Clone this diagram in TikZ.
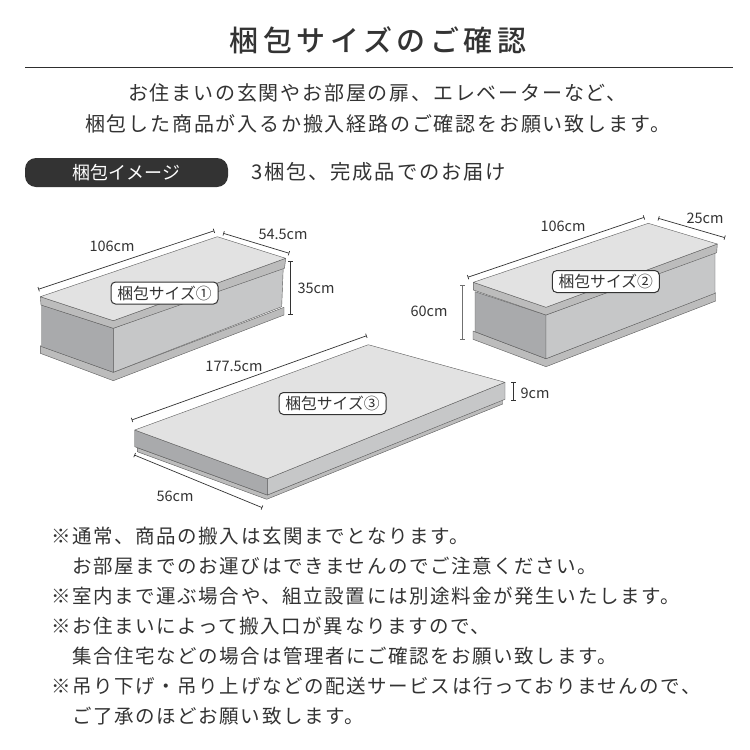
\documentclass[tikz,border=0pt]{standalone}
\usepackage{fontspec}
\usetikzlibrary{arrows.meta}
\setmainfont{Noto Sans CJK JP}
\newfontfamily\titlefont[LetterSpace=15.5]{Noto Sans CJK JP Medium}
\newfontfamily\leadfont[LetterSpace=9]{Noto Sans CJK JP}
\newfontfamily\notefont[LetterSpace=8.2]{Noto Sans CJK JP}
\newfontfamily\tagfont{Noto Sans CJK JP}
\definecolor{ink}{HTML}{333333}
\definecolor{topface}{HTML}{E2E2E2}
\definecolor{rightface}{HTML}{C6C7C8}
\definecolor{leftface}{HTML}{A9AAAC}
\definecolor{lipface}{HTML}{BCBCBC}
\tikzset{
  face/.style={draw=ink!80, line width=0.4pt, line join=round},
  dimline/.style={draw=ink, line width=0.7pt, {Bar[width=4.5pt,length=0.6pt]}-{Bar[width=4.5pt,length=0.6pt]}},
  dimlabel/.style={text=ink, font=\fontsize{14.5}{14.5}\selectfont\tagfont, inner sep=0pt},
  sizetag/.style={draw=ink, line width=1pt, fill=white, rounded corners=4.5pt, text=ink, inner sep=0pt,
    minimum width=107pt, minimum height=22pt, font=\fontsize{15.8}{15.8}\selectfont\tagfont},
  leadline/.style={text=ink, anchor=west, inner sep=0pt, font=\fontsize{20}{20}\selectfont\leadfont},
  noteline/.style={text=ink, anchor=west, inner sep=0pt, font=\fontsize{19.5}{19.5}\selectfont\notefont},
}

\begin{document}
\begin{tikzpicture}[x=1pt,y=-1pt]

\useasboundingbox (0,0) rectangle (750,750);
\fill [white] (0,0) rectangle (750,750);

% HEADER
\node (title) [text=ink, inner sep=0pt, font=\fontsize{29}{29}\selectfont\titlefont] at (378,40) {梱包サイズのご確認};
\draw [ink!90!black, line width=1pt] (25,67) -- (733,67);
\node (leadA) [leadline] at (128,93) {お住まいの玄関やお部屋の扉、エレベーターなど、};
\node (leadB) [leadline] at (85,124) {梱包した商品が入るか搬入経路のご確認をお願い致します。};

% IMAGE BAR
\node (imagebar) [fill=ink, rounded corners=11pt, minimum width=203pt, minimum height=29pt, inner sep=0pt,
  text=white, font=\fontsize{18}{18}\selectfont\tagfont] at (126.5,172.5) {梱包イメージ};
\node (delivery) [text=ink, anchor=west, inner sep=0pt, font=\fontsize{20.3}{20.3}\selectfont\leadfont] at (251,172) {3梱包、完成品でのお届け};

% BOX 1
\draw [face, fill=lipface] (40.3,345.7) -- (113.3,372.3) -- (284,307.3) -- (284,315) -- (113.3,380.7) -- (40.3,353.3) -- cycle;
\draw [face, fill=leftface] (41.7,305) -- (113.3,328.3) -- (113.3,372.3) -- (41.7,346.7) -- cycle;
\draw [face, fill=rightface] (113.3,328.3) -- (283.3,266) -- (281.7,306.7) -- (113.3,372.3) -- cycle;
\draw [face, fill=lipface] (40.3,296.7) -- (113.3,320.7) -- (285.7,258.3) -- (284.5,268.3) -- (113.3,328.3) -- (41,305) -- cycle;
\draw [face, fill=topface] (40.3,296.7) -- (217.3,236.7) -- (285.7,258.3) -- (113.3,320.7) -- cycle;
\draw [dimline] (38.3,289.3) -- (214.3,230.7);
\draw [dimline] (223.3,233.3) -- (289.3,253.3);
\draw [dimline] (290.7,261) -- (290.7,315);
\node (lenA) [dimlabel] at (112,246) {106cm};
\node (widA) [dimlabel] at (283,234) {54.5cm};
\node (hgtA) [dimlabel] at (316,288) {35cm};
\node (tagA) [sizetag] at (164.5,293) {梱包サイズ①};

% BOX 2
\draw [face, fill=lipface] (473,331) -- (546,358.7) -- (715.7,292.7) -- (715.7,301) -- (546,366.7) -- (473,339.3) -- cycle;
\draw [face, fill=leftface] (475,291.7) -- (546,315) -- (546,358.7) -- (475,331.7) -- cycle;
\draw [face, fill=rightface] (546,315) -- (715,252) -- (715,293.3) -- (546,358.7) -- cycle;
\draw [face, fill=lipface] (473.3,282.3) -- (546,307.3) -- (717.3,244) -- (716.7,252.7) -- (546,315) -- (473.3,290) -- cycle;
\draw [face, fill=topface] (473.3,282.3) -- (648.3,223.3) -- (717.3,244) -- (546,307.3) -- cycle;
\draw [dimline] (467.7,277.3) -- (644.3,217.3);
\draw [dimline] (658.3,218.3) -- (725,237.7);
\draw [dimline, draw=ink!70] (462.7,285.3) -- (462.7,339.3);
\node (lenB) [dimlabel] at (563,226) {106cm};
\node (widB) [dimlabel] at (705,218) {25cm};
\node (hgtB) [dimlabel] at (429,311) {60cm};
\node (tagB) [sizetag] at (605.8,281.5) {梱包サイズ②};

% BOX 3
\draw [face, fill=lipface] (137.3,447.7) -- (137.3,451.7) -- (266.7,499.3) -- (502.7,404) -- (502.7,399.5) -- (267.3,495) -- cycle;
\draw [face, fill=leftface] (134.7,430) -- (267.3,478.7) -- (267.3,495) -- (134.7,446.7) -- cycle;
\draw [face, fill=rightface] (267.3,478.7) -- (505,382.3) -- (505,399.3) -- (267.3,495) -- cycle;
\draw [face, fill=topface] (134.7,430) -- (368.3,344.7) -- (505,382.3) -- (267.3,478.7) -- cycle;
\draw [dimline] (131.7,420) -- (366.7,335.7);
\draw [dimline] (134.3,455) -- (262.3,507.7);
\draw [dimline] (513.7,382.3) -- (513.7,401);
\node (lenC) [dimlabel, fill=white, inner xsep=1pt] at (234,366) {177.5cm};
\node (widC) [dimlabel] at (175,496) {56cm};
\node (hgtC) [dimlabel] at (535,393) {9cm};
\node (tagC) [sizetag] at (332.5,403.5) {梱包サイズ③};

% NOTES
\node (noteA) [noteline] at (51,536) {※通常、商品の搬入は玄関までとなります。};
\node (noteB) [noteline] at (72,566) {お部屋までのお運びはできませんのでご注意ください。};
\node (noteC) [noteline] at (51,596) {※室内まで運ぶ場合や、組立設置には別途料金が発生いたします。};
\node (noteD) [noteline] at (51,626) {※お住まいによって搬入口が異なりますので、};
\node (noteE) [noteline] at (72,656) {集合住宅などの場合は管理者にご確認をお願い致します。};
\node (noteF) [noteline] at (51,686) {※吊り下げ・吊り上げなどの配送サービスは行っておりませんので、};
\node (noteG) [noteline] at (72,716) {ご了承のほどお願い致します。};

\end{tikzpicture}
\end{document}
